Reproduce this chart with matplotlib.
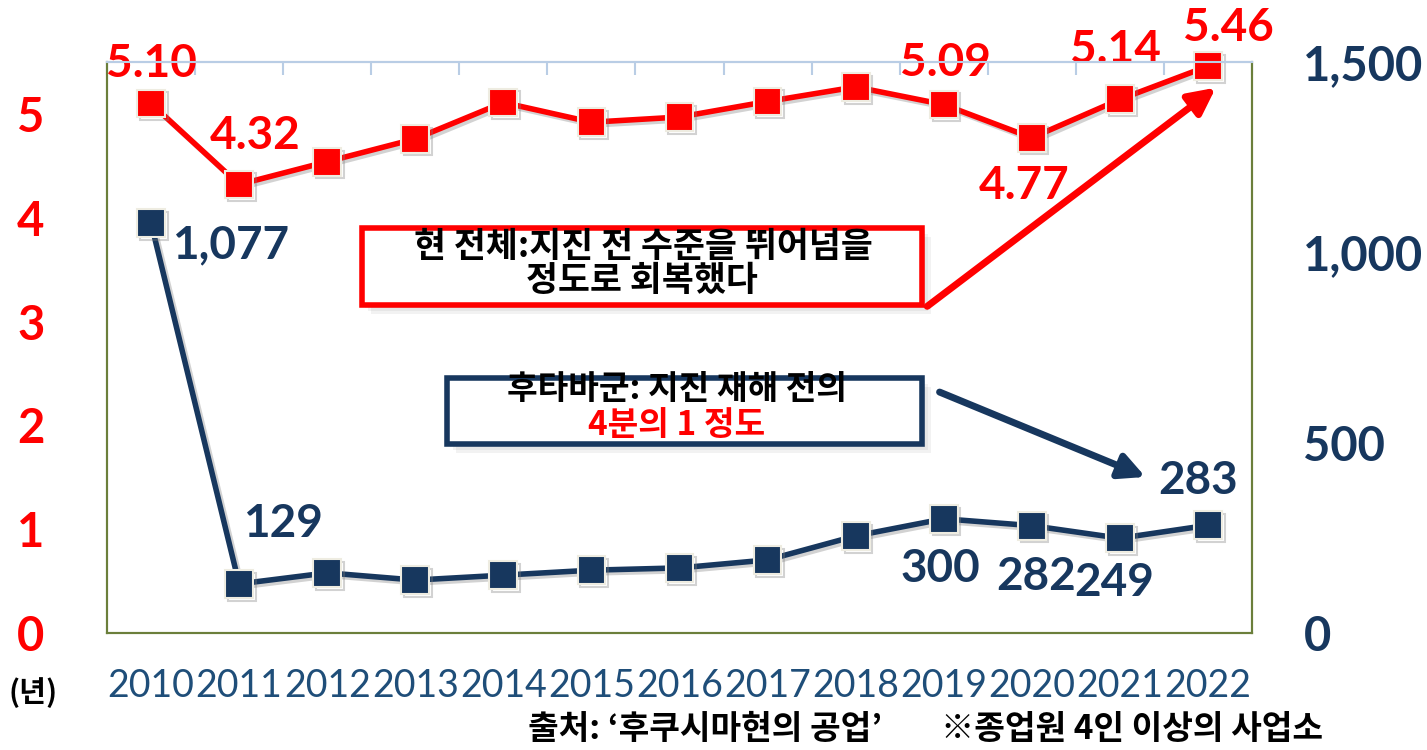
import numpy as np
import matplotlib.pyplot as plt
import matplotlib.patheffects as pe
from matplotlib.patches import Rectangle, FancyArrowPatch

plt.rcParams['font.family'] = ['Lato', 'Noto Sans CJK KR', 'DejaVu Sans']

years = ['2010', '2011', '2012', '2013', '2014', '2015', '2016',
         '2017', '2018', '2019', '2020', '2021', '2022']
# 현 전체 (지수) - 왼쪽 축
pref_total = [5.10, 4.32, 4.54, 4.76, 5.11, 4.92, 4.97, 5.12, 5.26, 5.09, 4.77, 5.14, 5.46]
# 후타바군 - 오른쪽 축
futaba = [1077, 129, 158, 139, 152, 165, 171, 192, 255, 300, 282, 249, 283]

red_labels = {0: '5.10', 1: '4.32', 9: '5.09', 10: '4.77', 11: '5.14', 12: '5.46'}
navy_labels = {0: '1,077', 1: '129', 9: '300', 10: '282', 11: '249', 12: '283'}
# label offsets in px (dx, dy up)
red_off = {0: (0, 40), 1: (16, 49), 9: (2, 42), 10: (-8, -48), 11: (-4, 49), 12: (20, 38)}
navy_off = {0: (79, -22), 1: (44, 60), 9: (-3, -50), 10: (4, -51), 11: (-6, -45), 12: (-10, 44)}

RED = '#FF0000'
NAVY = '#17375E'
YEARC = '#1F4E79'
OLIVE = '#6B7F3B'
KR = ['Noto Sans CJK KR', 'DejaVu Sans']
W, H = 1427, 750

fig = plt.figure(figsize=(W / 100, H / 100), dpi=100)
ax = fig.add_axes([107 / W, 1 - 633 / H, (1252 - 107) / W, (633 - 62) / H])
ax2 = ax.twinx()

x = np.arange(len(years))
shadow = [pe.SimpleLineShadow(offset=(2, -2), shadow_color='gray', alpha=0.35), pe.Normal()]

ax.plot(x, pref_total, color=RED, lw=4, marker='s', ms=20, mfc=RED, mec='#EEECE1',
        mew=1.5, clip_on=False, zorder=5, path_effects=shadow)
ax2.plot(x, futaba, color=NAVY, lw=4, marker='s', ms=20, mfc=NAVY, mec='#EEECE1',
         mew=1.5, clip_on=False, zorder=5, path_effects=shadow)

ax.set_xlim(-0.5, len(years) - 0.5)
ax.set_ylim(0, 5.5)
ax2.set_ylim(0, 1500)
ax.set_yticks([0, 1, 2, 3, 4, 5])
ax2.set_yticks([0, 500, 1000, 1500])
ax2.set_yticklabels(['0', '500', '1,000', '1,500'])
ax.set_xticks(x)
ax.set_xticklabels(years)

ax.tick_params(axis='y', length=0, pad=45, labelsize=34, labelcolor=RED)
for t in ax.get_yticklabels():
    t.set_fontweight('bold')
ax2.tick_params(axis='y', length=0, pad=37, labelsize=34, labelcolor=NAVY)
for t in ax2.get_yticklabels():
    t.set_fontweight('bold')
ax.tick_params(axis='x', length=0, pad=25, labelsize=27, labelcolor=YEARC)

# 위쪽 경계 눈금
ax.set_xticks(np.arange(-0.5, len(years)), minor=True)
ax.tick_params(axis='x', which='minor', top=True, bottom=False, direction='in',
               length=9, color='#B9CDE5', width=1.5)

for a in (ax, ax2):
    a.spines['left'].set_color(OLIVE)
    a.spines['bottom'].set_color(OLIVE)
    a.spines['right'].set_color(OLIVE)
    a.spines['top'].set_color('#B9CDE5')
    for s in a.spines.values():
        s.set_linewidth(1.5)

for i, s in red_labels.items():
    dx, dy = red_off[i]
    ax.annotate(s, (x[i], pref_total[i]), xytext=(dx * 0.72, dy * 0.72),
                textcoords='offset points', ha='center', va='center',
                fontsize=33, fontweight='bold', color=RED, zorder=6,
                annotation_clip=False)
for i, s in navy_labels.items():
    dx, dy = navy_off[i]
    ax2.annotate(s, (x[i], futaba[i]), xytext=(dx * 0.72, dy * 0.72),
                 textcoords='offset points', ha='center', va='center',
                 fontsize=33, fontweight='bold', color=NAVY, zorder=6,
                 annotation_clip=False)


def fx(px):
    return px / W


def fy(py):
    return 1 - py / H


def box(x0, y0, x1, y1, ec):
    for k, a in enumerate([0.10, 0.10, 0.12]):
        off = 9 - k * 3
        fig.add_artist(Rectangle((fx(x0 + off), fy(y1 + off)), fx(x1 - x0), (y1 - y0) / H,
                                 transform=fig.transFigure, fc='gray', ec='none',
                                 alpha=a, zorder=7))
    fig.add_artist(Rectangle((fx(x0), fy(y1)), fx(x1 - x0), (y1 - y0) / H,
                             transform=fig.transFigure, fc='white', ec=ec, lw=4, zorder=8))


box(362, 228, 922, 305, RED)
fig.text(fx(643), fy(247), '현 전체:지진 전 수준을 뛰어넘을', ha='center', va='center',
         fontsize=25, fontweight='heavy', color='black', family=KR, zorder=9)
fig.text(fx(642), fy(280), '정도로 회복했다', ha='center', va='center',
         fontsize=25, fontweight='heavy', color='black', family=KR, zorder=9)

box(447, 378, 922, 444, NAVY)
fig.text(fx(677), fy(390), '후타바군: 지진 재해 전의', ha='center', va='center',
         fontsize=24, fontweight='heavy', color='black', family=KR, zorder=9)
fig.text(fx(677), fy(425), '4분의 1 정도', ha='center', va='center',
         fontsize=24, fontweight='heavy', color=RED, family=KR, zorder=9)

fig.add_artist(FancyArrowPatch((fx(925), fy(308)), (fx(1218), fy(86)),
                               transform=fig.transFigure, arrowstyle='-|>',
                               mutation_scale=40, lw=5, color=RED, zorder=9))
fig.add_artist(FancyArrowPatch((fx(937), fy(391)), (fx(1148), fy(478)),
                               transform=fig.transFigure, arrowstyle='-|>',
                               mutation_scale=38, lw=5, color=NAVY, zorder=9))

fig.text(fx(33), fy(693), '(년)', ha='center', va='center', fontsize=21,
         fontweight='heavy', family=KR, color='black')
fig.text(fx(705), fy(730), '출처: ‘후쿠시마현의 공업’', ha='center', va='center',
         fontsize=24, fontweight='heavy', family=KR, color='black')
fig.text(fx(1132), fy(730), '※종업원 4인 이상의 사업소', ha='center', va='center',
         fontsize=24, fontweight='heavy', family=KR, color='black')

fig.savefig('out.png', dpi=100)
